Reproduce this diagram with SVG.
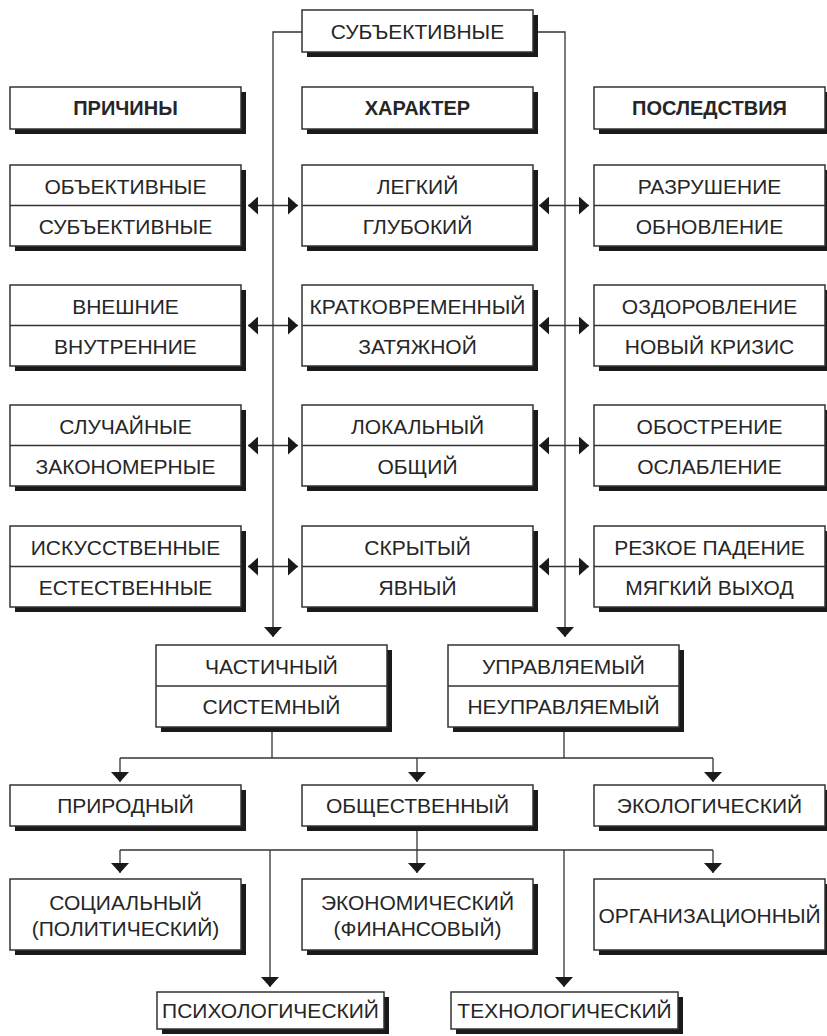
<svg xmlns="http://www.w3.org/2000/svg" width="827" height="1036" viewBox="0 0 827 1036">
<style>
.sh{fill:#1a1a1a}
.bx{fill:#fff;stroke:#333;stroke-width:1.5}
.dv{stroke:#333;stroke-width:1.5}
.t{font-family:"Liberation Sans",Arial,sans-serif;font-size:21px;fill:#262626;text-anchor:middle}
.b{font-weight:bold;font-size:20px}
.c{fill:none;stroke:#333;stroke-width:1.3}
.a{marker-end:url(#ah)}
.d{marker-start:url(#ah);marker-end:url(#ah)}
</style>
<defs>
<marker id="ah" viewBox="0 0 10 18" refX="10" refY="9" markerWidth="10" markerHeight="18" markerUnits="userSpaceOnUse" orient="auto-start-reverse">
<path d="M0,0 L10,9 L0,18 z" fill="#1a1a1a"/>
</marker>
</defs>
<rect width="827" height="1036" fill="#fff"/>

<g id="connectors">
<path class="c a" d="M302,32 H273 V637"/>
<path class="c a" d="M533,32 H565 V637"/>
<path class="c d" d="M248,205.5 H298"/>
<path class="c d" d="M539,205.5 H589"/>
<path class="c d" d="M248,325.5 H298"/>
<path class="c d" d="M539,325.5 H589"/>
<path class="c d" d="M248,445.5 H298"/>
<path class="c d" d="M539,445.5 H589"/>
<path class="c d" d="M248,566.5 H298"/>
<path class="c d" d="M539,566.5 H589"/>
<path class="c" d="M272,727 V758"/>
<path class="c" d="M564,727 V758"/>
<path class="c" d="M120,758 H713"/>
<path class="c a" d="M120,758 V782"/>
<path class="c a" d="M417,758 V782"/>
<path class="c a" d="M713,758 V782"/>
<path class="c" d="M417,826 V850"/>
<path class="c" d="M120,850 H713"/>
<path class="c a" d="M120,850 V873"/>
<path class="c a" d="M417,850 V873"/>
<path class="c a" d="M713,850 V873"/>
<path class="c a" d="M270,850 V987"/>
<path class="c a" d="M564,850 V987"/>
</g>

<g id="top">
<rect class="sh" x="307" y="15" width="231" height="42"/>
<rect class="bx" x="302" y="10" width="231" height="42"/>
<text class="t" x="417.5" y="38.5">СУБЪЕКТИВНЫЕ</text>
</g>

<g id="h-prichiny">
<rect class="sh" x="15" y="92" width="231" height="42"/>
<rect class="bx" x="10" y="87" width="231" height="42"/>
<text class="t b" x="125.5" y="115">ПРИЧИНЫ</text>
</g>
<g id="h-harakter">
<rect class="sh" x="307" y="92" width="231" height="42"/>
<rect class="bx" x="302" y="87" width="231" height="42"/>
<text class="t b" x="417.5" y="115">ХАРАКТЕР</text>
</g>
<g id="h-posledstviya">
<rect class="sh" x="599" y="92" width="231" height="42"/>
<rect class="bx" x="594" y="87" width="231" height="42"/>
<text class="t b" x="709.5" y="115">ПОСЛЕДСТВИЯ</text>
</g>

<!-- row 1 -->
<g id="r1-left">
<rect class="sh" x="15" y="170" width="231" height="81"/>
<rect class="bx" x="10" y="165" width="231" height="81"/>
<line class="dv" x1="10" y1="205.5" x2="241" y2="205.5"/>
<text class="t" x="125.5" y="193.5">ОБЪЕКТИВНЫЕ</text>
<text class="t" x="125.5" y="233.5">СУБЪЕКТИВНЫЕ</text>
</g>
<g id="r1-center">
<rect class="sh" x="307" y="170" width="231" height="81"/>
<rect class="bx" x="302" y="165" width="231" height="81"/>
<line class="dv" x1="302" y1="205.5" x2="533" y2="205.5"/>
<text class="t" x="417.5" y="193.5">ЛЕГКИЙ</text>
<text class="t" x="417.5" y="233.5">ГЛУБОКИЙ</text>
</g>
<g id="r1-right">
<rect class="sh" x="599" y="170" width="231" height="81"/>
<rect class="bx" x="594" y="165" width="231" height="81"/>
<line class="dv" x1="594" y1="205.5" x2="825" y2="205.5"/>
<text class="t" x="709.5" y="193.5">РАЗРУШЕНИЕ</text>
<text class="t" x="709.5" y="233.5">ОБНОВЛЕНИЕ</text>
</g>

<!-- row 2 -->
<g id="r2-left">
<rect class="sh" x="15" y="290" width="231" height="81"/>
<rect class="bx" x="10" y="285" width="231" height="81"/>
<line class="dv" x1="10" y1="325.5" x2="241" y2="325.5"/>
<text class="t" x="125.5" y="313.5">ВНЕШНИЕ</text>
<text class="t" x="125.5" y="353.5">ВНУТРЕННИЕ</text>
</g>
<g id="r2-center">
<rect class="sh" x="307" y="290" width="231" height="81"/>
<rect class="bx" x="302" y="285" width="231" height="81"/>
<line class="dv" x1="302" y1="325.5" x2="533" y2="325.5"/>
<text class="t" x="417.5" y="313.5">КРАТКОВРЕМЕННЫЙ</text>
<text class="t" x="417.5" y="353.5">ЗАТЯЖНОЙ</text>
</g>
<g id="r2-right">
<rect class="sh" x="599" y="290" width="231" height="81"/>
<rect class="bx" x="594" y="285" width="231" height="81"/>
<line class="dv" x1="594" y1="325.5" x2="825" y2="325.5"/>
<text class="t" x="709.5" y="313.5">ОЗДОРОВЛЕНИЕ</text>
<text class="t" x="709.5" y="353.5">НОВЫЙ КРИЗИС</text>
</g>

<!-- row 3 -->
<g id="r3-left">
<rect class="sh" x="15" y="410" width="231" height="81"/>
<rect class="bx" x="10" y="405" width="231" height="81"/>
<line class="dv" x1="10" y1="445.5" x2="241" y2="445.5"/>
<text class="t" x="125.5" y="433.5">СЛУЧАЙНЫЕ</text>
<text class="t" x="125.5" y="473.5">ЗАКОНОМЕРНЫЕ</text>
</g>
<g id="r3-center">
<rect class="sh" x="307" y="410" width="231" height="81"/>
<rect class="bx" x="302" y="405" width="231" height="81"/>
<line class="dv" x1="302" y1="445.5" x2="533" y2="445.5"/>
<text class="t" x="417.5" y="433.5">ЛОКАЛЬНЫЙ</text>
<text class="t" x="417.5" y="473.5">ОБЩИЙ</text>
</g>
<g id="r3-right">
<rect class="sh" x="599" y="410" width="231" height="81"/>
<rect class="bx" x="594" y="405" width="231" height="81"/>
<line class="dv" x1="594" y1="445.5" x2="825" y2="445.5"/>
<text class="t" x="709.5" y="433.5">ОБОСТРЕНИЕ</text>
<text class="t" x="709.5" y="473.5">ОСЛАБЛЕНИЕ</text>
</g>

<!-- row 4 -->
<g id="r4-left">
<rect class="sh" x="15" y="531" width="231" height="81"/>
<rect class="bx" x="10" y="526" width="231" height="81"/>
<line class="dv" x1="10" y1="566.5" x2="241" y2="566.5"/>
<text class="t" x="125.5" y="554.5">ИСКУССТВЕННЫЕ</text>
<text class="t" x="125.5" y="594.5">ЕСТЕСТВЕННЫЕ</text>
</g>
<g id="r4-center">
<rect class="sh" x="307" y="531" width="231" height="81"/>
<rect class="bx" x="302" y="526" width="231" height="81"/>
<line class="dv" x1="302" y1="566.5" x2="533" y2="566.5"/>
<text class="t" x="417.5" y="554.5">СКРЫТЫЙ</text>
<text class="t" x="417.5" y="594.5">ЯВНЫЙ</text>
</g>
<g id="r4-right">
<rect class="sh" x="599" y="531" width="231" height="81"/>
<rect class="bx" x="594" y="526" width="231" height="81"/>
<line class="dv" x1="594" y1="566.5" x2="825" y2="566.5"/>
<text class="t" x="709.5" y="554.5">РЕЗКОЕ ПАДЕНИЕ</text>
<text class="t" x="709.5" y="594.5">МЯГКИЙ ВЫХОД</text>
</g>

<!-- scope boxes -->
<g id="chastichny">
<rect class="sh" x="161" y="650" width="231" height="82"/>
<rect class="bx" x="156" y="645" width="231" height="82"/>
<line class="dv" x1="156" y1="686" x2="387" y2="686"/>
<text class="t" x="271.5" y="673.5">ЧАСТИЧНЫЙ</text>
<text class="t" x="271.5" y="714">СИСТЕМНЫЙ</text>
</g>
<g id="upravlyaemy">
<rect class="sh" x="453" y="650" width="231" height="82"/>
<rect class="bx" x="448" y="645" width="231" height="82"/>
<line class="dv" x1="448" y1="686" x2="679" y2="686"/>
<text class="t" x="563.5" y="673.5">УПРАВЛЯЕМЫЙ</text>
<text class="t" x="563.5" y="714">НЕУПРАВЛЯЕМЫЙ</text>
</g>

<!-- type boxes -->
<g id="prirodny">
<rect class="sh" x="15" y="790" width="231" height="41"/>
<rect class="bx" x="10" y="785" width="231" height="41"/>
<text class="t" x="125.5" y="813">ПРИРОДНЫЙ</text>
</g>
<g id="obshchestvenny">
<rect class="sh" x="307" y="790" width="231" height="41"/>
<rect class="bx" x="302" y="785" width="231" height="41"/>
<text class="t" x="417.5" y="813">ОБЩЕСТВЕННЫЙ</text>
</g>
<g id="ekologichesky">
<rect class="sh" x="599" y="790" width="231" height="41"/>
<rect class="bx" x="594" y="785" width="231" height="41"/>
<text class="t" x="709.5" y="813">ЭКОЛОГИЧЕСКИЙ</text>
</g>

<g id="socialny">
<rect class="sh" x="15" y="884" width="231" height="71"/>
<rect class="bx" x="10" y="879" width="231" height="71"/>
<text class="t" x="125.5" y="910">СОЦИАЛЬНЫЙ</text>
<text class="t" x="125.5" y="936">(ПОЛИТИЧЕСКИЙ)</text>
</g>
<g id="ekonomichesky">
<rect class="sh" x="307" y="884" width="231" height="71"/>
<rect class="bx" x="302" y="879" width="231" height="71"/>
<text class="t" x="417.5" y="910">ЭКОНОМИЧЕСКИЙ</text>
<text class="t" x="417.5" y="936">(ФИНАНСОВЫЙ)</text>
</g>
<g id="organizacionny">
<rect class="sh" x="599" y="884" width="231" height="71"/>
<rect class="bx" x="594" y="879" width="231" height="71"/>
<text class="t" x="709.5" y="922.5">ОРГАНИЗАЦИОННЫЙ</text>
</g>

<g id="psihologichesky">
<rect class="sh" x="162" y="997" width="227" height="37"/>
<rect class="bx" x="157" y="992" width="227" height="37"/>
<text class="t" x="270.5" y="1018">ПСИХОЛОГИЧЕСКИЙ</text>
</g>
<g id="tehnologichesky">
<rect class="sh" x="456" y="997" width="227" height="37"/>
<rect class="bx" x="451" y="992" width="227" height="37"/>
<text class="t" x="564.5" y="1018">ТЕХНОЛОГИЧЕСКИЙ</text>
</g>
</svg>
